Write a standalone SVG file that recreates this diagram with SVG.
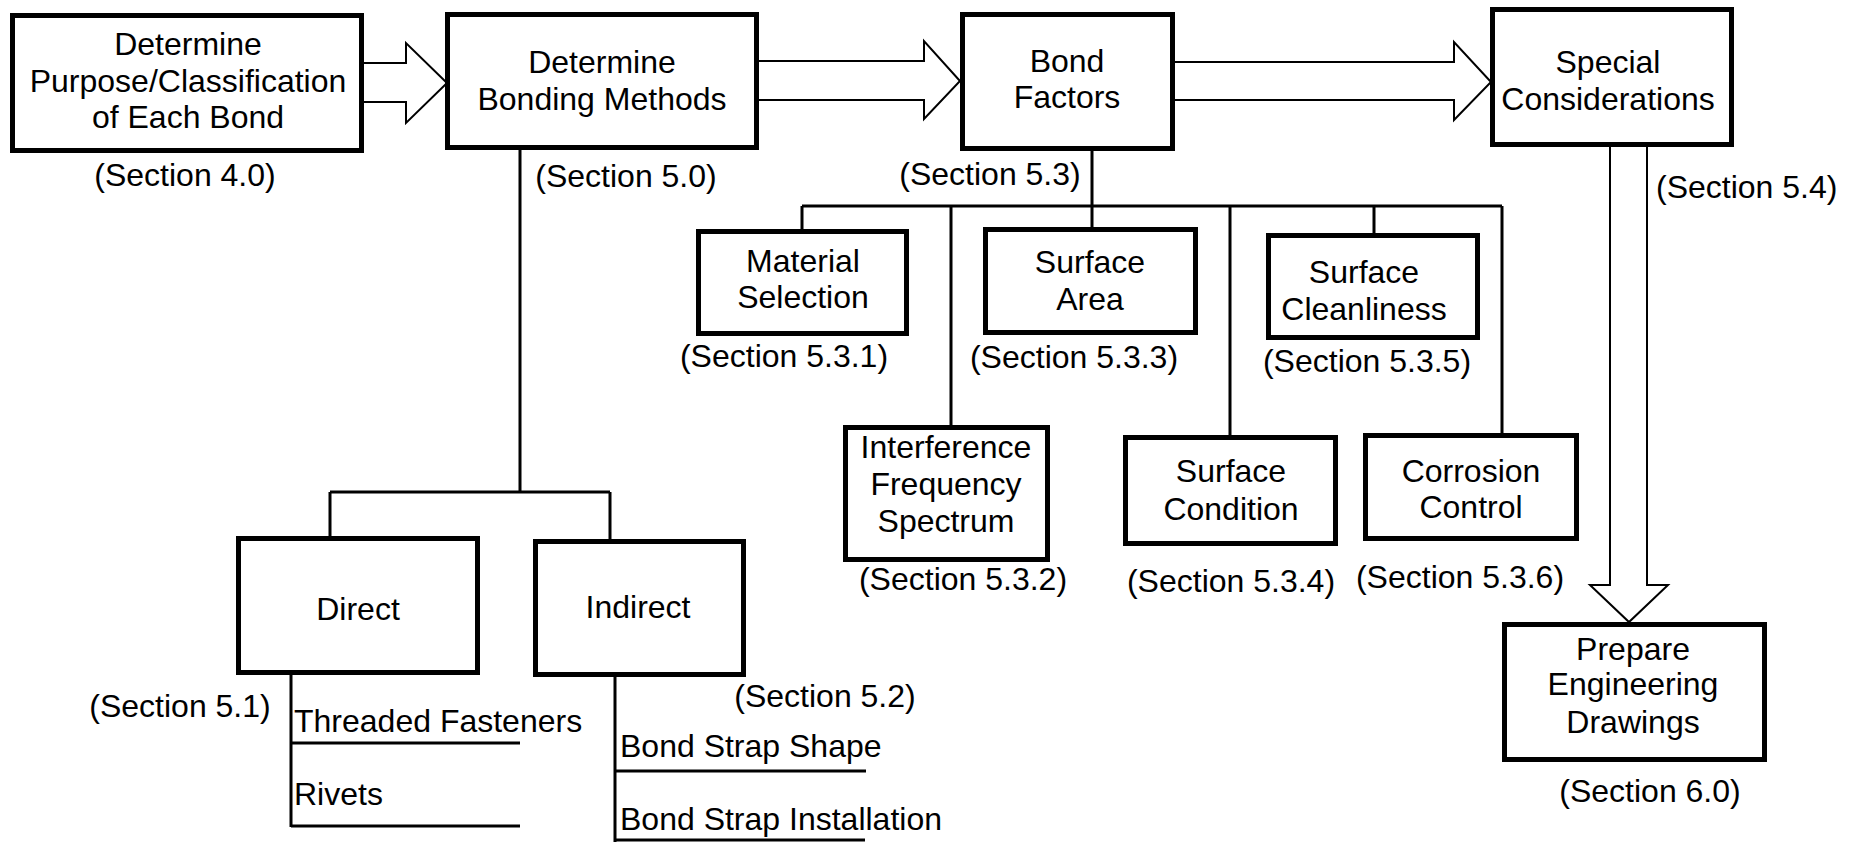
<svg xmlns="http://www.w3.org/2000/svg" width="1854" height="842" viewBox="0 0 1854 842">
<style>
.box{fill:#fff;stroke:#000;stroke-width:5}
.t{font-family:"Liberation Sans",Arial,Helvetica,sans-serif;font-size:32px;fill:#000;text-anchor:middle}
.l{font-family:"Liberation Sans",Arial,Helvetica,sans-serif;font-size:32px;fill:#000;text-anchor:start}
.ln{fill:none;stroke:#000;stroke-width:3}
.blk{fill:#fff;stroke:#000;stroke-width:2;stroke-linejoin:miter}
</style>
<rect width="1854" height="842" fill="#fff"/>
<g id="connectors">
  <polygon class="blk" points="362,63 406,63 406,43 447,83 406,123 406,102 362,102"/>
  <polygon class="blk" points="757,61 924,61 924,41 960,81 924,119 924,100 757,100"/>
  <polygon class="blk" points="1173,62 1454,62 1454,42 1491,82 1454,120 1454,100 1173,100"/>
  <polygon class="blk" points="1610,145 1610,585 1590,585 1629,622 1668,585 1647,585 1647,145"/>
  <path class="ln" d="M520,150 V492 M330,492 H610 M330,492 V536 M610,492 V539"/>
  <path class="ln" d="M291,675 V827 M291,743 H520 M291,826 H520"/>
  <path class="ln" d="M615,677 V842 M615,771 H866 M615,840 H865"/>
  <path class="ln" d="M1092,151 V227 M802,206 H1502 M802,206 V229 M951,206 V425 M1230,206 V435 M1374,206 V233 M1502,206 V433"/>
</g>
<g id="n-purpose">
  <rect class="box" x="12.5" y="15.5" width="349" height="135"/>
  <text class="t" x="188" y="55">Determine</text>
  <text class="t" x="188" y="92">Purpose/Classification</text>
  <text class="t" x="188" y="128">of Each Bond</text>
  <text class="t" x="185" y="186">(Section 4.0)</text>
</g>
<g id="n-methods">
  <rect class="box" x="447.5" y="14.5" width="309" height="133"/>
  <text class="t" x="602" y="73">Determine</text>
  <text class="t" x="602" y="110">Bonding Methods</text>
  <text class="t" x="626" y="187">(Section 5.0)</text>
</g>
<g id="n-factors">
  <rect class="box" x="962.5" y="14.5" width="210" height="134"/>
  <text class="t" x="1067" y="72">Bond</text>
  <text class="t" x="1067" y="108">Factors</text>
  <text class="t" x="990" y="185">(Section 5.3)</text>
</g>
<g id="n-special">
  <rect class="box" x="1492.5" y="9.5" width="239" height="135"/>
  <text class="t" x="1608" y="73">Special</text>
  <text class="t" x="1608" y="110">Considerations</text>
  <text class="l" x="1656" y="198">(Section 5.4)</text>
</g>
<g id="n-prepare">
  <rect class="box" x="1504.5" y="624.5" width="260" height="135"/>
  <text class="t" x="1633" y="660">Prepare</text>
  <text class="t" x="1633" y="695">Engineering</text>
  <text class="t" x="1633" y="733">Drawings</text>
  <text class="t" x="1650" y="802">(Section 6.0)</text>
</g>
<g id="n-material">
  <rect class="box" x="698.5" y="231.5" width="208" height="102"/>
  <text class="t" x="803" y="272">Material</text>
  <text class="t" x="803" y="308">Selection</text>
  <text class="t" x="784" y="367">(Section 5.3.1)</text>
</g>
<g id="n-area">
  <rect class="box" x="985.5" y="229.5" width="210" height="103"/>
  <text class="t" x="1090" y="273">Surface</text>
  <text class="t" x="1090" y="310">Area</text>
  <text class="t" x="1074" y="368">(Section 5.3.3)</text>
</g>
<g id="n-cleanliness">
  <rect class="box" x="1268.5" y="235.5" width="209" height="102"/>
  <text class="t" x="1364" y="283">Surface</text>
  <text class="t" x="1364" y="320">Cleanliness</text>
  <text class="t" x="1367" y="372">(Section 5.3.5)</text>
</g>
<g id="n-interference">
  <rect class="box" x="845.5" y="427.5" width="202" height="132"/>
  <text class="t" x="946" y="458">Interference</text>
  <text class="t" x="946" y="495">Frequency</text>
  <text class="t" x="946" y="532">Spectrum</text>
  <text class="t" x="963" y="590">(Section 5.3.2)</text>
</g>
<g id="n-condition">
  <rect class="box" x="1125.5" y="437.5" width="210" height="106"/>
  <text class="t" x="1231" y="482">Surface</text>
  <text class="t" x="1231" y="520">Condition</text>
  <text class="t" x="1231" y="592">(Section 5.3.4)</text>
</g>
<g id="n-corrosion">
  <rect class="box" x="1365.5" y="435.5" width="211" height="103"/>
  <text class="t" x="1471" y="482">Corrosion</text>
  <text class="t" x="1471" y="518">Control</text>
  <text class="t" x="1460" y="588">(Section 5.3.6)</text>
</g>
<g id="n-direct">
  <rect class="box" x="238.5" y="538.5" width="239" height="134"/>
  <text class="t" x="358" y="620">Direct</text>
  <text class="t" x="180" y="717">(Section 5.1)</text>
  <text class="l" x="294" y="732">Threaded Fasteners</text>
  <text class="l" x="294" y="805">Rivets</text>
</g>
<g id="n-indirect">
  <rect class="box" x="535.5" y="541.5" width="208" height="133"/>
  <text class="t" x="638" y="618">Indirect</text>
  <text class="t" x="825" y="707">(Section 5.2)</text>
  <text class="l" x="620" y="757">Bond Strap Shape</text>
  <text class="l" x="620" y="830">Bond Strap Installation</text>
</g>
</svg>
